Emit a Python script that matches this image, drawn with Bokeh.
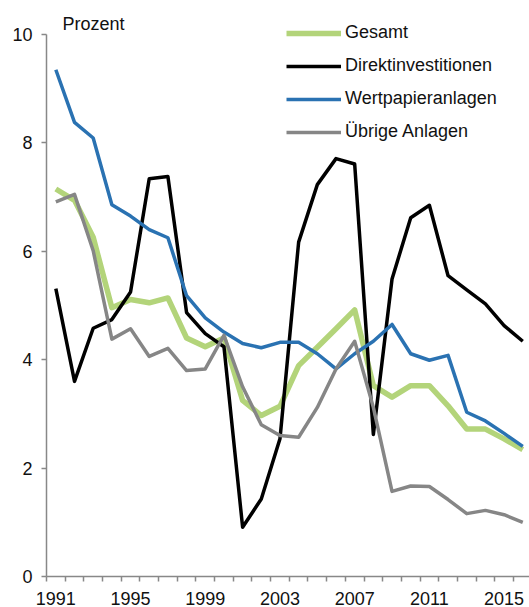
from bokeh.plotting import figure
from bokeh.models import Range1d, FixedTicker, Legend, LegendItem, Label
from bokeh.embed import file_html
from bokeh.resources import INLINE

years = list(range(1991, 2017))
gesamt = [7.15, 6.94, 6.26, 4.96, 5.11, 5.05, 5.14, 4.40, 4.24, 4.40, 3.25, 2.97, 3.14,
          3.89, 4.23, 4.57, 4.92, 3.52, 3.31, 3.52, 3.52, 3.15, 2.72, 2.72, 2.54, 2.34]
direkt = [5.31, 3.60, 4.58, 4.74, 5.25, 7.34, 7.38, 4.87, 4.48, 4.24, 0.91, 1.43, 2.54,
          6.17, 7.23, 7.71, 7.61, 2.62, 5.49, 6.62, 6.85, 5.55, 5.29, 5.03, 4.63, 4.34]
wertpapier = [9.35, 8.38, 8.09, 6.86, 6.65, 6.40, 6.25, 5.18, 4.77, 4.51, 4.30, 4.22, 4.32,
              4.32, 4.11, 3.83, 4.11, 4.34, 4.65, 4.11, 3.99, 4.08, 3.03, 2.87, 2.64, 2.40]
uebrige = [6.91, 7.05, 6.01, 4.38, 4.57, 4.06, 4.21, 3.80, 3.83, 4.45, 3.50, 2.80, 2.60,
           2.57, 3.12, 3.83, 4.34, 3.12, 1.57, 1.67, 1.66, 1.42, 1.16, 1.22, 1.14, 1.00]
series_names = ["Gesamt", "Direktinvestitionen", "Wertpapieranlagen", "Übrige Anlagen"]
x_tick_years = [1991, 1995, 1999, 2003, 2007, 2011, 2015]
y_ticks = [0, 2, 4, 6, 8, 10]
unit_label = "Prozent"

FONT = "Liberation Sans"
AXIS_COLOR = "#888888"
TEXT_COLOR = "#111111"

p = figure(width=529, height=607, output_backend="svg", toolbar_location=None,
           x_range=Range1d(1990.5, 2016.36), y_range=Range1d(0, 10.406),
           min_border_left=46, min_border_right=0, min_border_top=12, min_border_bottom=31)
p.outline_line_color = None
p.xgrid.grid_line_color = None
p.ygrid.grid_line_color = None

colors = ["#B3D47A", "#000000", "#2A72B2", "#868686"]
widths = [5.5, 3.5, 3.5, 3.5]
renderers = []
for ys, c, w in zip([gesamt, direkt, wertpapier, uebrige], colors, widths):
    r = p.line(years, ys, line_color=c, line_width=w, line_join="round")
    renderers.append(r)

# x axis
xa = p.xaxis[0]
xa.ticker = FixedTicker(ticks=x_tick_years,
                        minor_ticks=[1990.5 + i for i in range(len(years) + 1)])
xa.major_tick_in = 0
xa.major_tick_out = 0
xa.minor_tick_in = 0
xa.minor_tick_out = 5
xa.minor_tick_line_color = AXIS_COLOR
xa.minor_tick_line_width = 1.5
xa.axis_line_color = AXIS_COLOR
xa.axis_line_width = 1.5
xa.major_label_standoff = 10
xa.major_label_text_font = FONT
xa.major_label_text_font_size = "18px"
xa.major_label_text_color = TEXT_COLOR

# y axis
ya = p.yaxis[0]
ya.ticker = FixedTicker(ticks=y_ticks)
ya.bounds = (0, 10)
ya.major_tick_in = 0
ya.major_tick_out = 5
ya.minor_tick_out = 0
ya.minor_tick_in = 0
ya.major_tick_line_color = AXIS_COLOR
ya.major_tick_line_width = 1.5
ya.axis_line_color = AXIS_COLOR
ya.axis_line_width = 1.5
ya.major_label_standoff = 9
ya.major_label_text_font = FONT
ya.major_label_text_font_size = "18px"
ya.major_label_text_color = TEXT_COLOR

p.add_layout(Label(x=1991.36, y=10.19, text=unit_label, text_font=FONT,
                   text_font_size="18px", text_baseline="alphabetic",
                   text_color=TEXT_COLOR))

legend = Legend(items=[LegendItem(label=n, renderers=[r]) for n, r in zip(series_names, renderers)],
                location=(240, 434), padding=0, margin=0, spacing=12,
                glyph_width=55, glyph_height=20, label_height=20, label_standoff=4,
                label_text_font=FONT, label_text_font_size="18px",
                label_text_color=TEXT_COLOR,
                border_line_color=None, background_fill_alpha=0)
p.add_layout(legend)

open("out.html", "w").write(file_html(p, INLINE))
